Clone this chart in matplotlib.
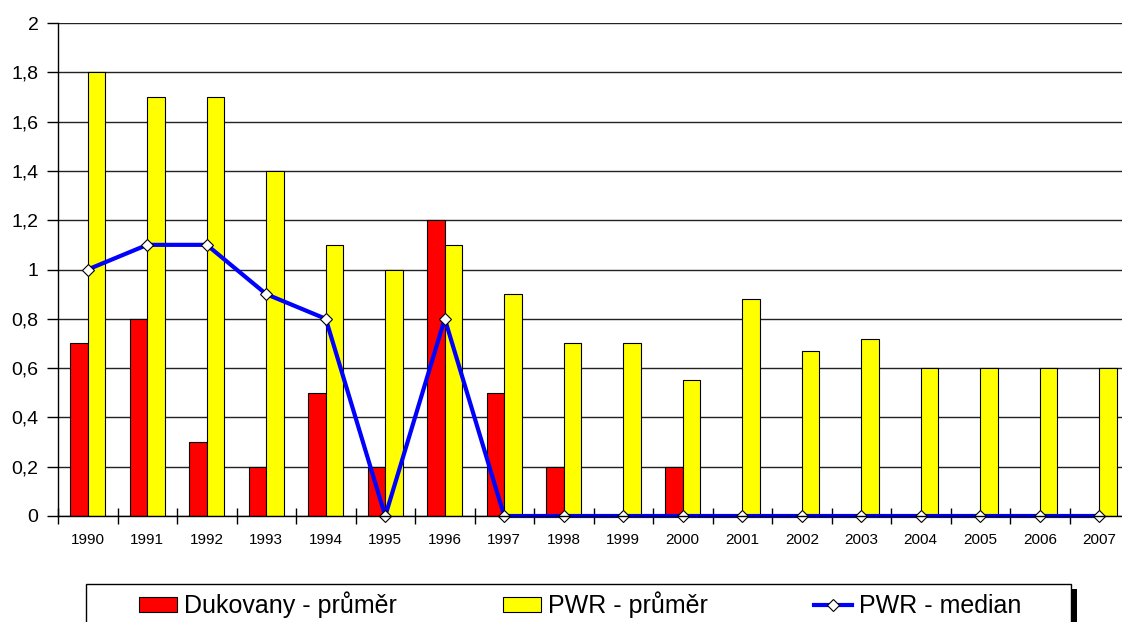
import numpy as np
import matplotlib
matplotlib.use("Agg")
import matplotlib.pyplot as plt
from matplotlib.patches import Patch, Rectangle
from matplotlib.lines import Line2D

plt.rcParams['font.family'] = ['Liberation Sans', 'DejaVu Sans']

years = ['1990', '1991', '1992', '1993', '1994', '1995', '1996', '1997', '1998',
         '1999', '2000', '2001', '2002', '2003', '2004', '2005', '2006', '2007']
dukovany_mean = [0.7, 0.8, 0.3, 0.2, 0.5, 0.2, 1.2, 0.5, 0.2, 0.0, 0.2,
                 0, 0, 0, 0, 0, 0, 0]
pwr_mean = [1.8, 1.7, 1.7, 1.4, 1.1, 1.0, 1.1, 0.9, 0.7, 0.7, 0.55,
            0.88, 0.67, 0.72, 0.6, 0.6, 0.6, 0.6]
pwr_median = [1.0, 1.1, 1.1, 0.9, 0.8, 0.0, 0.8, 0, 0, 0, 0,
              0, 0, 0, 0, 0, 0, 0]
y_ticks = [0, 0.2, 0.4, 0.6, 0.8, 1.0, 1.2, 1.4, 1.6, 1.8, 2.0]
y_ticklabels = ['0', '0,2', '0,4', '0,6', '0,8', '1', '1,2', '1,4', '1,6', '1,8', '2']
labels = ['Dukovany - průměr', 'PWR - průměr', 'PWR - median']

W, H = 1122, 622
fig = plt.figure(figsize=(W / 100, H / 100), dpi=100)
ax = fig.add_axes([58 / W, 1 - 516 / H, (1129 - 58) / W, (516 - 23) / H])

x = np.arange(len(years))
w = 0.29
ax.bar(x - w / 2, dukovany_mean, width=w, color='#FF0000', edgecolor='black',
       linewidth=0.8, zorder=3)
ax.bar(x + w / 2, pwr_mean, width=w, color='#FFFF00', edgecolor='black',
       linewidth=0.8, zorder=3)
ax.plot(x, pwr_median, color='#0000FF', lw=3, marker='D', markersize=6.5,
        markerfacecolor='white', markeredgecolor='black', markeredgewidth=0.8,
        zorder=4, clip_on=False)

ax.set_xlim(-0.5, len(years) - 0.5)
ax.set_ylim(0, 2)
ax.set_yticks(y_ticks)
ax.set_yticklabels(y_ticklabels, fontsize=14)
ax.tick_params(axis='y', direction='out', length=8, width=1, pad=6, color='black')

ax.set_xticks(np.arange(-0.5, len(years), 1))
ax.set_xticklabels([])
ax.set_xticks(x, minor=True)
ax.set_xticklabels(years, minor=True, fontsize=11)
ax.tick_params(axis='x', which='major', direction='inout', length=12, width=1, color='black')
ax.tick_params(axis='x', which='minor', length=0, pad=12)

ax.yaxis.grid(True, color='#222222', lw=1, zorder=0)
ax.set_axisbelow(True)
for s in ['top', 'right']:
    ax.spines[s].set_visible(False)
for s in ['left', 'bottom']:
    ax.spines[s].set_color('black')
    ax.spines[s].set_linewidth(1)
    ax.spines[s].set_zorder(5)

handles = [Patch(facecolor='#FF0000', edgecolor='black', lw=0.8),
           Patch(facecolor='#FFFF00', edgecolor='black', lw=0.8),
           Line2D([], [], color='#0000FF', lw=3, marker='D', markersize=6.5,
                  markerfacecolor='white', markeredgecolor='black', markeredgewidth=0.8)]
fig.legend(handles, labels, loc='center', bbox_to_anchor=(580 / W, 1 - 605 / H),
           ncol=3, frameon=False, fontsize=18, handlelength=1.52, handleheight=0.6,
           handletextpad=0.28, columnspacing=4.25)

fig.patches.append(Rectangle((86 / W, -0.05), (1071 - 86) / W, (622 - 584) / H + 0.05,
                             transform=fig.transFigure, fill=False, edgecolor='black', lw=1))
fig.patches.append(Rectangle((1071 / W, -0.05), 6 / W, (622 - 589) / H + 0.05,
                             transform=fig.transFigure, facecolor='black', edgecolor='none'))

fig.savefig('out.png', dpi=100)
